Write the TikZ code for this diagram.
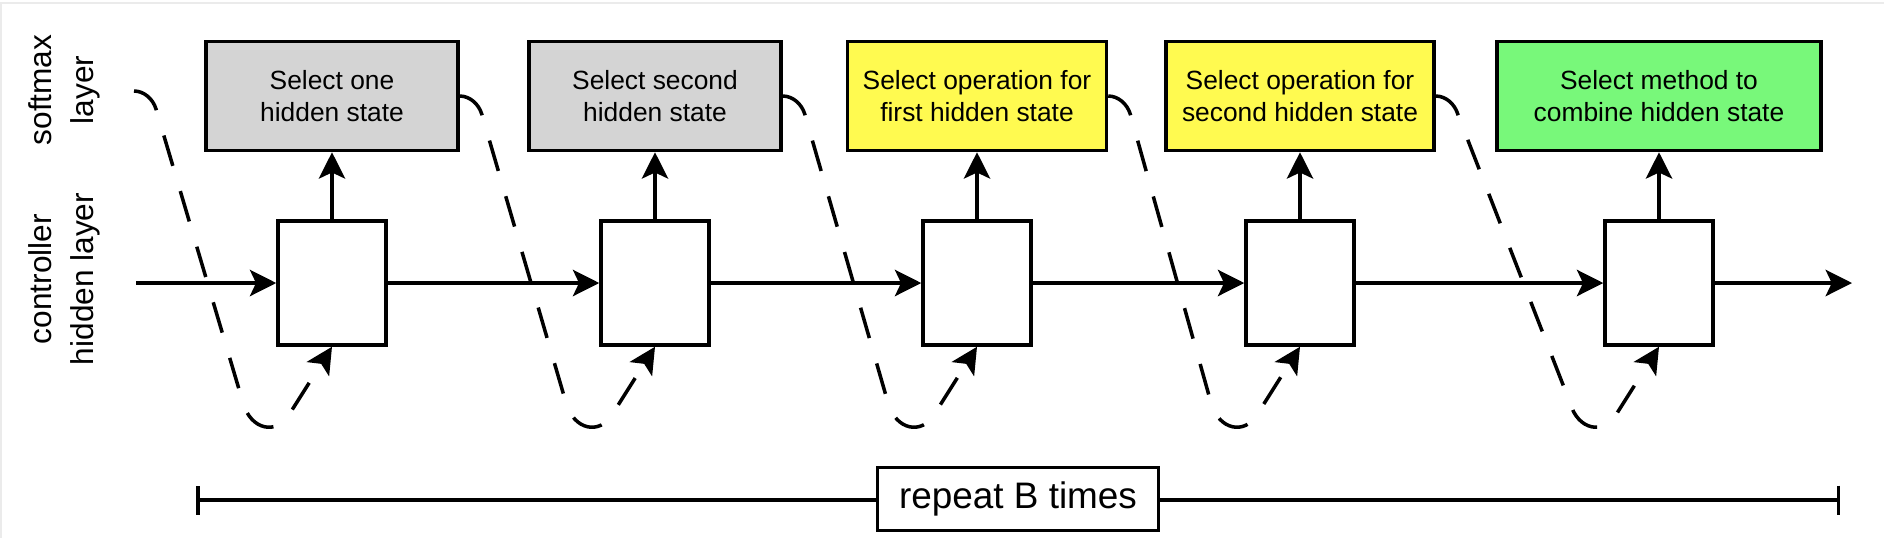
\documentclass[tikz,border=0pt]{standalone}
\usepackage{fontspec}
\setmainfont{Liberation Sans}
\usetikzlibrary{positioning,calc,arrows.meta}

\definecolor{selgray}{RGB}{212,212,212}
\definecolor{selyellow}{RGB}{255,250,80}
\definecolor{selgreen}{RGB}{120,248,122}

\tikzset{
  ctrl/.style={draw, line width=2pt, fill=white, minimum width=2.16cm, minimum height=2.48cm},
  smax/.style={draw, line width=2pt, minimum height=2.18cm, align=center, font=\fontsize{15}{18.5}\selectfont},
  sidelabel/.style={rotate=90, align=center, font=\fontsize{18}{24}\selectfont},
  flow/.style={line width=2pt, -{Stealth[length=15pt, width=15pt, inset=3.5pt]}},
  feedback/.style={flow, dash pattern=on 18pt off 15pt},
  span/.style={line width=2pt, {Bar[width=0.58cm]}-{Bar[width=0.58cm]}},
}

\begin{document}
\begin{tikzpicture}[x=0.02cm, y=-0.02cm]
            \useasboundingbox (0,0) rectangle (1884,538);
            \draw[black!8, line width=0.8pt] (1,538) -- (1,3) -- (1884,3);

            %% side labels
            \node[sidelabel] (smlabel) at (64,90)  {softmax\\layer};
            \node[sidelabel] (hlabel)  at (64,279) {controller\\hidden layer};

            %% controller hidden layer
            \node[ctrl] (h1) at (332,283)  {};
            \node[ctrl] (h2) at (655,283)  {};
            \node[ctrl] (h3) at (977,283)  {};
            \node[ctrl] (h4) at (1300,283) {};
            \node[ctrl] (h5) at (1659,283) {};

            %% softmax layer
            \node[smax, fill=selgray,   minimum width=5.04cm, above=1.34cm of h1] (sm1) {Select one\\hidden state};
            \node[smax, fill=selgray,   minimum width=5.04cm, above=1.34cm of h2] (sm2) {Select second\\hidden state};
            \node[smax, fill=selyellow, minimum width=5.18cm, above=1.34cm of h3] (sm3) {Select operation for\\first hidden state};
            \node[smax, fill=selyellow, minimum width=5.36cm, above=1.34cm of h4] (sm4) {Select operation for\\second hidden state};
            \node[smax, fill=selgreen,  minimum width=6.48cm, above=1.34cm of h5] (sm5) {Select method to\\combine hidden state};

            %% hidden state chain
            \coordinate (inp)  at (136,283);
            \coordinate (outp) at (1852,283);
            \draw[flow] (inp) -- (h1);
            \draw[flow] (h1) -- (h2);
            \draw[flow] (h2) -- (h3);
            \draw[flow] (h3) -- (h4);
            \draw[flow] (h4) -- (h5);
            \draw[flow] (h5) -- (outp);

            %% outputs
            \draw[flow] (h1) -- (sm1);
            \draw[flow] (h2) -- (sm2);
            \draw[flow] (h3) -- (sm3);
            \draw[flow] (h4) -- (sm4);
            \draw[flow] (h5) -- (sm5);

            %% sampled choice fed back
            \coordinate (fb0) at (134,91);
            \draw[feedback] (fb0) .. controls +(10,0) and ($(fb0)+(19,8)$) .. ($(fb0)+(22,18)$)
                -- ($(h1.south)+(-89,56)$) .. controls ($(h1.south)+(-81,84)$) and ($(h1.south)+(-55,88)$) .. ($(h1.south)+(-43,68)$) -- (h1.south);
            \draw[feedback] (sm1.east) .. controls +(10,0) and ($(sm1.east)+(19,8)$) .. ($(sm1.east)+(22,18)$)
                -- ($(h2.south)+(-89,56)$) .. controls ($(h2.south)+(-81,84)$) and ($(h2.south)+(-55,88)$) .. ($(h2.south)+(-43,68)$) -- (h2.south);
            \draw[feedback] (sm2.east) .. controls +(10,0) and ($(sm2.east)+(19,8)$) .. ($(sm2.east)+(22,18)$)
                -- ($(h3.south)+(-89,56)$) .. controls ($(h3.south)+(-81,84)$) and ($(h3.south)+(-55,88)$) .. ($(h3.south)+(-43,68)$) -- (h3.south);
            \draw[feedback] (sm3.east) .. controls +(10,0) and ($(sm3.east)+(19,8)$) .. ($(sm3.east)+(22,18)$)
                -- ($(h4.south)+(-89,56)$) .. controls ($(h4.south)+(-81,84)$) and ($(h4.south)+(-55,88)$) .. ($(h4.south)+(-43,68)$) -- (h4.south);
            \draw[feedback] (sm4.east) .. controls +(10,0) and ($(sm4.east)+(19,8)$) .. ($(sm4.east)+(22,18)$)
                -- ($(h5.south)+(-89,56)$) .. controls ($(h5.south)+(-81,84)$) and ($(h5.south)+(-55,88)$) .. ($(h5.south)+(-43,68)$) -- (h5.south);

            %% repeat span
            \coordinate (spanl) at (196,500);
            \coordinate (spanr) at (1840,500);
            \draw[span] (spanl) -- (spanr);
            \node[draw, line width=1.2pt, fill=white, minimum width=5.62cm, minimum height=1.26cm,
                  font=\fontsize{21}{25}\selectfont] (rep) at (1018,499) {repeat B times};

        \end{tikzpicture}
\end{document}
